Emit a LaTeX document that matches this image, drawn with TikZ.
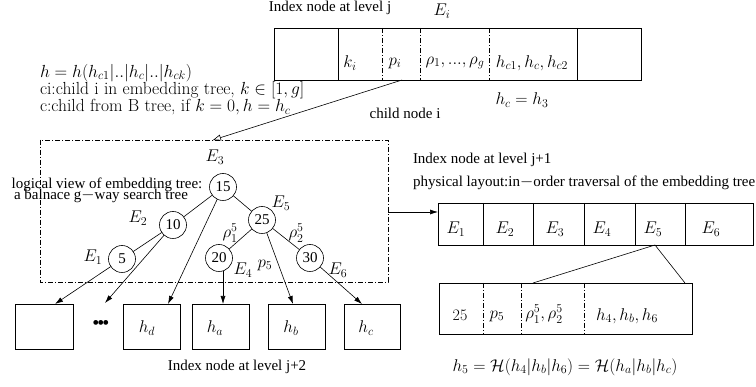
\RequirePackage{fix-cm}
\documentclass[tikz,border=0pt]{standalone}
\usepackage{fontspec}
\newfontfamily\tms{Liberation Serif}
\DeclareMathSizes{15}{17}{12}{9}
\DeclareMathSizes{17.5}{17.5}{12.2}{9}
\usetikzlibrary{arrows.meta}
\begin{document}
\begin{tikzpicture}[x=1pt,y=-1pt,
  font=\tms\fontsize{15}{17}\selectfont,
  every node/.style={inner sep=0pt, outer sep=0pt},
  legend/.style={anchor=west, font=\rmfamily\fontsize{17.5}{19}\selectfont},
  boxnode/.style={draw, line width=0.6pt, anchor=north west},
  tnode/.style={draw, circle, minimum size=27pt, line width=0.6pt},
  dd/.style={line width=0.5pt, dash pattern=on 5pt off 2pt on 1pt off 2pt},
  arr/.style={line width=0.6pt, -{Latex[length=8pt,width=5pt]}},
  oarr/.style={line width=0.6pt, -{Triangle[open,length=8pt,width=6pt]}},
  edge/.style={line width=0.6pt}]
\useasboundingbox (0,0) rectangle (756,387);

% ---------- top box: index node at level j
\node[boxnode, minimum width=367pt, minimum height=52pt] (top) at (274,28) {};
\draw[line width=0.6pt] (338,28) -- (338,80);
\draw[line width=0.6pt] (577,28) -- (577,80);
\draw[dd] (382,28) -- (382,80);
\draw[dd] (420,28) -- (420,80);
\draw[dd] (489,28) -- (489,80);
\node (ki) at (350,63) {$k_i$};
\node (pi) at (395,63) {$p_i$};
\node (rho) at (455,63) {$\rho_1,...,\rho_g$};
\node (hcs) at (532,63) {$h_{c1},h_c,h_{c2}$};
\node (ttl) at (330,8) {Index node at level j};
\node (Ei) at (442,11) {$E_i$};
\node (hch) at (522,100) {$h_c=h_3$};
\node (cni) at (405,113) {child node i};

% ---------- left legend
\node[legend] (l1) at (40,73) {$h=h(h_{c1}|..|h_c|..|h_{ck})$};
\node[legend] (l2) at (40,90) {ci:child i in embedding tree, $k\in[1,g]$};
\node[legend] (l3) at (40,107) {c:child from B tree, if $k=0,h=h_c$};

% ---------- dash-dot box (logical view)
\node[boxnode, draw=none, minimum width=348pt, minimum height=142pt] (dbox) at (40,140) {};
\draw[dd] (dbox.north west) rectangle (dbox.south east);
\coordinate (src) at (402,80);
\coordinate (dtip) at (213,140);
\draw[oarr] (src) -- (dtip);

\node (lv1) at (107,185) {logical view of embedding tree:};
\node (lv2) at (101,196) {a balnace g$-$way search tree};

% ---------- tree
\node[tnode] (n15) at (223,187) {15};
\node[tnode] (n10) at (173,225) {10};
\node[tnode] (n25) at (262,220) {25};
\node[tnode] (n5)  at (122,259) {5};
\node[tnode] (n20) at (219,258) {20};
\node[tnode] (n30) at (310,258) {30};
\draw[edge] (n15) -- (n10);
\draw[edge] (n15) -- (n25);
\draw[edge] (n10) -- (n5);
\draw[edge] (n25) -- (n20);
\draw[edge] (n25) -- (n30);

\node (lE3) at (215,157) {$E_3$};
\node (lE2) at (138,218) {$E_2$};
\node (lE5) at (281,203) {$E_5$};
\node (lE1) at (93,257) {$E_1$};
\node (lr1) at (230,233) {$\rho_1^5$};
\node (lr2) at (296,233) {$\rho_2^5$};
\node (lE4) at (243,270) {$E_4$};
\node (lp5) at (265,265) {$p_5$};
\node (lE6) at (338,270) {$E_6$};

% ---------- level j+2 boxes
\node[boxnode, minimum width=58pt, minimum height=45pt] (b1) at (15,304) {};
\node[boxnode, minimum width=57pt, minimum height=45pt] (bd) at (123,304) {};
\node[boxnode, minimum width=57pt, minimum height=45pt] (ba) at (192,304) {};
\node[boxnode, minimum width=57pt, minimum height=45pt] (bb) at (268,304) {};
\node[boxnode, minimum width=56pt, minimum height=45pt] (bc) at (344,304) {};
\node (hd) at (147,328) {$h_d$};
\node (ha) at (215,328) {$h_a$};
\node (hb) at (291,328) {$h_b$};
\node (hc) at (366,328) {$h_c$};
\node (dots) at (101,325) {\fontsize{20}{20}\selectfont\textbullet\kern-2pt\textbullet\kern-2pt\textbullet};
\node (l2t) at (237,367) {Index node at level j+2};

\coordinate (t1) at (55,304);
\coordinate (tdots) at (105,303);
\coordinate (td) at (168,304);
\coordinate (ta) at (223,304);
\coordinate (tb) at (293,304);
\coordinate (tc) at (362,304);
\coordinate (s20) at (223,271);
\draw[arr] (n5) -- (t1);
\draw[arr] (n10) -- (tdots);
\draw[arr] (n15) -- (td);
\draw[arr] (s20) -- (ta);
\draw[arr] (n25) -- (tb);
\draw[arr] (n30) -- (tc);

% ---------- level j+1 physical layout
\node[anchor=west] (p1) at (413,160) {Index node at level j+1};
\node[anchor=west] (p2) at (413,183) {physical layout:in$-$order traversal of the embedding tree};
\node[boxnode, minimum width=315pt, minimum height=42pt] (ebox) at (438,203) {};
\foreach \x in {483,533,584,635,685} \draw[line width=0.6pt] (\x,203) -- (\x,245);
\node (e1) at (456,229) {$E_1$};
\node (e2) at (505,229) {$E_2$};
\node (e3) at (555,229) {$E_3$};
\node (e4) at (602,229) {$E_4$};
\node (e5) at (653,229) {$E_5$};
\node (e6) at (711,229) {$E_6$};
\coordinate (dout) at (388,212);
\coordinate (ein) at (438,212);
\draw[arr] (dout) -- (ein);

% ---------- expanded E5
\node[boxnode, minimum width=253pt, minimum height=51pt] (xbox) at (439,283) {};
\draw[dd] (483,283) -- (483,334);
\draw[dd] (521,283) -- (521,334);
\draw[dd] (584,283) -- (584,334);
\node[font=\rmfamily\fontsize{16}{18}\selectfont] (x25) at (460,315) {25};
\node (xp5) at (497,316) {$p_5$};
\node (xrho) at (544,314) {$\rho_1^5,\rho_2^5$};
\node (xh) at (627,316) {$h_4,h_b,h_6$};
\coordinate (e5b) at (655,245);
\coordinate (xl) at (533,283);
\coordinate (xr) at (685,283);
\draw[edge] (e5b) -- (xl);
\draw[edge] (e5b) -- (xr);
\node (form) at (565,367) {$h_5=\mathcal{H}(h_4|h_b|h_6)=\mathcal{H}(h_a|h_b|h_c)$};
\end{tikzpicture}
\end{document}
